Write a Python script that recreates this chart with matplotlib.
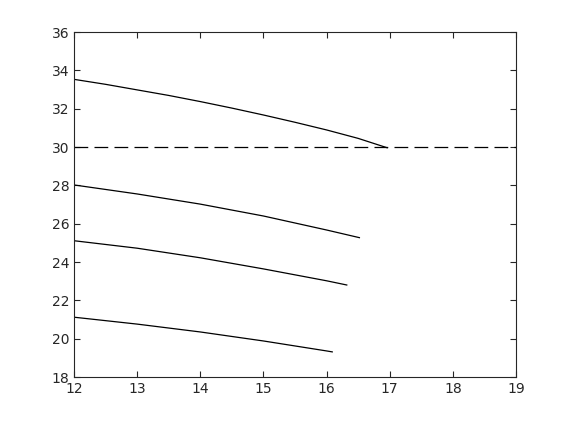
import numpy as np
import matplotlib.pyplot as plt

# Curves (x, y)
x1 = [12, 12.5, 13, 13.5, 14, 14.5, 15, 15.5, 16, 16.5, 16.96]
y1 = [33.53, 33.27, 32.98, 32.69, 32.37, 32.03, 31.67, 31.29, 30.89, 30.45, 29.96]

x2 = [12, 13, 14, 15, 16, 16.52]
y2 = [28.02, 27.55, 27.02, 26.4, 25.67, 25.27]

x3 = [12, 13, 14, 15, 16, 16.32]
y3 = [25.11, 24.72, 24.22, 23.64, 23.02, 22.8]

x4 = [12, 13, 14, 15, 16, 16.09]
y4 = [21.12, 20.76, 20.35, 19.88, 19.36, 19.31]

limit_y = 30
xticks = [12, 13, 14, 15, 16, 17, 18, 19]
yticks = [18, 20, 22, 24, 26, 28, 30, 32, 34, 36]

fig = plt.figure(figsize=(5.7, 4.22), dpi=100)
ax = fig.add_axes([74 / 570, 45 / 422, 442 / 570, 345 / 422])

for xs, ys in [(x1, y1), (x2, y2), (x3, y3), (x4, y4)]:
    ax.plot(xs, ys, color='black', linewidth=0.9)

ax.axhline(limit_y, color='black', linewidth=0.9, linestyle=(0, (11, 5)))

ax.set_xlim(12, 19)
ax.set_ylim(18, 36)
ax.set_xticks(xticks)
ax.set_yticks(yticks)

axis_color = '#262626'
for side in ax.spines.values():
    side.set_color(axis_color)
    side.set_linewidth(0.8)
ax.tick_params(direction='in', top=True, right=True, length=4,
               color=axis_color, labelcolor=axis_color, labelsize=10, width=0.8)

fig.savefig('out.png', dpi=100)
